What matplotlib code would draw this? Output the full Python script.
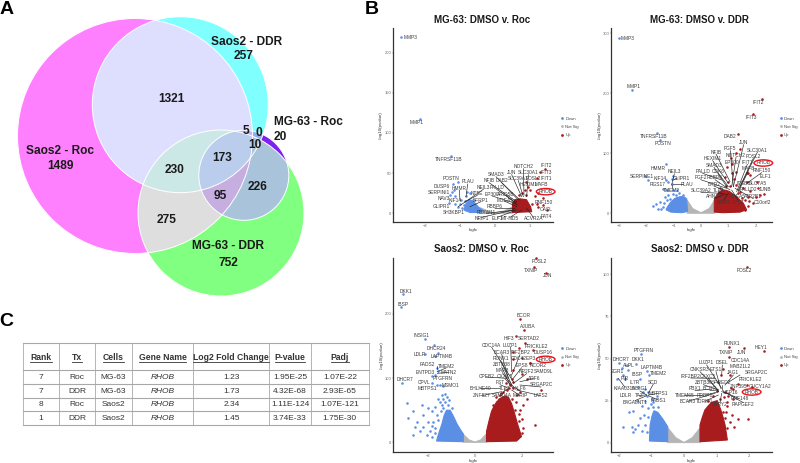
import matplotlib
matplotlib.use("Agg")
import matplotlib.pyplot as plt
import numpy as np
from matplotlib.lines import Line2D
from matplotlib.patches import Circle, Ellipse
from matplotlib.transforms import Affine2D

plt.rcParams["font.family"] = ["Liberation Sans", "DejaVu Sans"]

W, H = 800, 463

# --- panel C table ---
TABLE_HEAD = ["Rank", "Tx", "Cells", "Gene Name", "Log2 Fold Change", "P-value", "Padj"]
RANK = ["7", "7", "8", "1"]
TX = ["Roc", "DDR", "Roc", "DDR"]
CELLS = ["MG-63", "MG-63", "Saos2", "Saos2"]
GENE = ["RHOB", "RHOB", "RHOB", "RHOB"]
LOG2FC = [1.23, 1.73, 2.34, 1.45]
PVALUE = ["1.95E-25", "4.32E-68", "1.11E-124", "3.74E-33"]
PADJ = ["1.07E-22", "2.93E-65", "1.07E-121", "1.75E-30"]

# --- panel A overlap counts ---
VENN_NAMES = ["Saos2 - Roc", "Saos2 - DDR", "MG-63 - Roc", "MG-63 - DDR"]
VENN_COUNTS = [1489, 257, 20, 752, 1321, 230, 275, 173, 95, 226, 5, 0, 10]

# --- panel B volcano data: logfc and -log10(pvalue) ---
# dense clouds are outlines, sparse genes are single points
ROC_MG_GRAY_X = [-0.47, -0.42, -0.2, 0, 0.25, 0.5, 0.5, -0.47]
ROC_MG_GRAY_Y = [0, 7, 3, 0.5, 3, 8, 0, 0]
ROC_MG_DOWN_X = [-0.89, -0.83, -0.73, -0.62, -0.48, -0.33, -0.43, -0.71]
ROC_MG_DOWN_Y = [4, 12, 17, 15, 8, 3, 1, 1]
ROC_MG_UP_X = [0.5, 0.5, 0.57, 0.71, 0.9, 1.02, 1.05]
ROC_MG_UP_Y = [1, 12, 17, 18, 17, 8, 2]
ROC_MG_PTS_DOWN_X = [-2.69, -2.15, -1.25, -1.07, -1.21, -1.24, -1.17, -1.3, -1.33, -1.14, -0.79, -0.83, -1.0, -1.05,
                     -0.95, -0.86, -0.71, -0.62, -1.14, -0.98, -0.9]
ROC_MG_PTS_DOWN_Y = [219, 117, 71, 39, 36, 27, 29, 23, 13, 21, 27, 21, 12, 8, 6, 15, 25, 17, 12, 17, 10]
ROC_MG_PTS_UP_X = [1.43, 1.29, 1.19, 0.9, 1.0, 0.86, 0.76, 0.9, 1.14, 1.38, 1.19, 1.38, 1.48, 1.05, 1.24, 0.7, 0.95]
ROC_MG_PTS_UP_Y = [55, 51, 44, 39, 29, 29, 25, 23, 21, 19, 12, 10, 4, 12, 8, 23, 33]

DDR_MG_GRAY_X = [-0.5, -0.5, -0.3, 0, 0.3, 0.5, 0.5, -0.5]
DDR_MG_GRAY_Y = [0, 22, 8, 1, 8, 22, 0, 0]
DDR_MG_DOWN_X = [-1.28, -1.22, -1.13, -1.05, -0.95, -0.82, -0.71, -0.6, -0.52, -0.49, -0.7, -1.1]
DDR_MG_DOWN_Y = [6, 11, 17, 21, 25, 27, 28, 27, 24, 3, 1, 2]
DDR_MG_UP_X = [0.49, 0.49, 0.55, 0.63, 0.72, 0.82, 0.95, 1.06, 1.2, 1.3, 1.45, 1.55, 1.67, 1.43, 0.8]
DDR_MG_UP_Y = [2, 22, 28, 33, 37, 39, 38, 36, 31, 28, 21, 17, 6, 2, 1]
DDR_MG_PTS_DOWN_X = [-3.0, -2.54, -1.62, -1.5, -1.29, -1.04, -1.93, -1.26, -1.07, -1.38, -1.23, -1.01, -0.87, -1.74,
                     -1.65, -1.56, -1.5, -1.4, -1.32, -1.2, -1.01, -0.79, -2.05, -1.2, -1.07, -1.45, -1.35, -1.25,
                     -1.15, -0.92, -0.65]
DDR_MG_PTS_DOWN_Y = [293, 206, 134, 122, 82, 63, 56, 56, 49, 40, 39, 39, 39, 12, 16, 8, 19, 11, 28, 31, 32, 34, 62,
                     52, 58, 7, 18, 22, 24, 30, 31]
DDR_MG_PTS_UP_X = [2.22, 1.91, 1.34, 1.43, 1.27, 1.11, 0.94, 1.3, 1.67, 1.79, 2.04, 2.1, 1.67, 1.73, 2.16, 2.3, 2.01,
                   1.89, 1.55, 1.43, 1.3, 1.12, 1.0, 0.88, 1.2, 1.05, 1.6, 1.45, 1.8, 1.15, 1.72, 1.6, 1.5, 0.7, 0.9,
                   1.35, 1.75]
DDR_MG_PTS_UP_Y = [191, 166, 133, 107, 101, 92, 78, 69, 67, 64, 53, 42, 53, 28, 31, 32, 28, 17, 42, 36, 47, 67, 53,
                   61, 58, 45, 22, 16, 38, 82, 12, 6, 25, 42, 46, 34, 20]

ROC_SA_GRAY_X = [-0.5, -0.5, -0.25, 0, 0.25, 0.5, 0.5, -0.5]
ROC_SA_GRAY_Y = [0, 13, 4, 0.5, 4, 14, 0, 0]
ROC_SA_DOWN_X = [-1.62, -1.58, -1.5, -1.4, -1.3, -1.2, -1.05, -0.9, -0.75, -0.6, -0.49, -0.49]
ROC_SA_DOWN_Y = [2, 8, 17, 28, 42, 50, 50, 40, 28, 19, 13, 1]
ROC_SA_UP_X = [0.49, 0.49, 0.6, 0.7, 0.82, 0.92, 1.1, 1.27, 1.42, 1.55, 1.66, 1.79, 1.9, 1.97, 1.76]
ROC_SA_UP_Y = [1, 17, 34, 48, 57, 63, 69, 72, 70, 60, 47, 30, 17, 9, 2]
ROC_SA_PTS_DOWN_X = [-3.04, -3.14, -2.11, -1.73, -2.11, -1.55, -1.69, -1.62, -1.55, -1.69, -1.83, -3.07, -1.83, -1.62,
                     -1.48, -1.34, -2.86, -2.61, -2.25, -2.82, -2.46, -2.61, -2.54, -2.32, -2.18, -2.18, -1.97, -1.9,
                     -1.83, -1.97, -1.69, -1.55, -1.41, -1.27, -1.48, -1.76, -1.62, -1.69, -2.04, -1.83, -1.34, -1.34,
                     -1.2, -1.1, -1.45, -1.55, -1.38, -1.28, -1.12, -0.98, -1.7, -1.8]
ROC_SA_PTS_DOWN_Y = [230, 211, 161, 151, 138, 139, 135, 115, 111, 105, 103, 92, 93, 89, 89, 88, 61, 48, 58, 38, 32, 11,
                     24, 17, 24, 42, 32, 17, 48, 53, 55, 68, 74, 75, 63, 32, 42, 22, 11, 9, 68, 53, 70, 66, 48, 35,
                     58, 62, 58, 54, 14, 26]
ROC_SA_PTS_UP_X = [2.58, 2.49, 3.0, 1.9, 2.08, 1.73, 2.11, 1.87, 2.44, 1.62, 2.32, 1.97, 1.62, 1.62, 1.97, 2.18, 2.8,
                   2.54, 2.18, 2.04, 1.9, 1.83, 1.97, 1.97, 1.76, 1.62, 1.34, 1.48, 1.55, 1.2, 1.06, 1.9, 1.62, 1.75,
                   1.3, 1.42, 0.9, 1.7, 1.85, 2.02, 0.78, 1.0, 1.12, 1.55, 1.85]
ROC_SA_PTS_UP_Y = [286, 272, 264, 192, 175, 166, 155, 146, 144, 140, 124, 131, 130, 112, 107, 99, 81, 27, 68, 58, 50,
                   17, 14, 37, 74, 84, 81, 89, 99, 79, 74, 79, 94, 62, 92, 85, 70, 50, 33, 22, 58, 68, 76, 68, 44]

DDR_SA_GRAY_X = [-0.5, -0.5, -0.25, 0, 0.25, 0.5, 0.5, -0.5]
DDR_SA_GRAY_Y = [0, 9, 3, 0.2, 3, 9, 0, 0]
DDR_SA_DOWN_X = [-1.06, -1.04, -0.98, -0.92, -0.8, -0.63, -0.5, -0.5]
DDR_SA_DOWN_Y = [1, 10.5, 16, 19, 18, 13.5, 9.5, 0.6]
DDR_SA_UP_X = [0.49, 0.49, 0.56, 0.64, 0.75, 0.85, 1.02, 1.12, 1.2, 1.26, 1.33]
DDR_SA_UP_Y = [0.6, 10.5, 15, 19.4, 22, 24, 25, 20, 15, 10.5, 1.6]
DDR_SA_PTS_DOWN_X = [-1.33, -1.99, -1.48, -1.76, -1.91, -2.04, -1.73, -1.81, -1.86, -1.35, -1.12, -1.06, -1.4, -1.19,
                     -1.09, -1.14, -1.19, -1.45, -1.3, -1.55, -1.7, -1.86, -1.6, -1.55, -1.4, -1.24, -1.35, -1.19,
                     -1.09, -0.99, -0.94, -0.84, -1.14, -1.5, -1.02, -1.25, -1.1, -0.95, -0.8, -1.3]
DDR_SA_PTS_DOWN_Y = [52.5, 47.5, 47, 46, 44.5, 38, 43, 38, 40, 38, 42.5, 40, 33, 32, 30, 28, 25, 25, 22, 19, 18.5, 9.5,
                     9.5, 6.5, 10.5, 16.5, 14.5, 10.5, 20.4, 26, 24, 28, 6.5, 8, 23, 30, 15, 21, 21, 7]
DDR_SA_PTS_UP_X = [1.94, 1.85, 2.45, 1.39, 1.38, 1.2, 1.41, 1.66, 1.92, 2.09, 1.51, 1.36, 1.51, 1.31, 1.2, 1.26, 1.31,
                   1.41, 1.54, 1.66, 1.96, 1.46, 1.15, 1.33, 1.26, 1.05, 1.15, 1.0, 0.9, 1.1, 1.18, 1.3, 0.75, 1.22]
DDR_SA_PTS_UP_Y = [104.5, 56, 54.7, 57, 51, 44, 40, 35, 34, 33, 32, 28, 26, 24, 18.4, 14.5, 8.5, 12.5, 9.5, 14, 14,
                   16.4, 6.5, 22, 30, 36, 40, 31, 28, 26, 5, 18, 25, 27]

# gene symbols beside the points
ROC_MG_GENES = ["MMP3", "MMP1", "TNFRSF11B", "POSTN", "PLAU", "DUSP6", "HMMR", "NEIL3", "SERPINI1", "NT5E", "NAV3",
                "SFRP1", "GLIPR1", "KIF14", "SH3KBP1", "NOTCH2", "IFIT2", "IFIT3", "JUN", "SLC30A1", "SMAD3",
                "SLC39A1", "FOSL2", "IFIT1", "NFIB", "DAB2", "HEXIM1", "MAFB", "PALLD", "EP300", "ARID5B", "MGEA5",
                "RBBP6", "FBXW11", "NRIP1", "ELF1", "MT-ND5", "ACVR2A", "FAT4", "OASL", "RNF150"]
DDR_MG_GENES = ["MMP3", "MMP1", "TNFRSF11B", "POSTN", "HMMR", "NEIL3", "GLIPR1", "SERPINE1", "KIF14", "RGS17", "PLAU",
                "TMEM2", "IFIT2", "IFIT3", "DAB2", "JUN", "SLC30A1", "FGF5", "NFIB", "NOTCH2", "FOSL2", "HEXIM1",
                "IFIT1", "EP300", "SMAD3", "MAFB", "PALLD", "CDK6", "RNF150", "ELF1", "FGF2", "RBBP6", "BRD2",
                "ITGB8", "SLC7A5", "SLC39A2", "TLE4", "PALLD2", "JUNB", "AHNAK", "MGEA5", "ATP2B1", "NRIP1", "LYST",
                "C10orf2"]
ROC_SA_GENES = ["FOSL2", "TXNIP", "JUN", "DKK1", "IBSP", "BCOR", "AJUBA", "INSIG1", "HIF3", "SERTAD2", "DHCR24",
                "PRICKLE2", "CDC14A", "LUZP1", "IRF2BP2", "DUSP16", "BCAR3", "LDLR", "LAPTM4B", "RUNX1", "CDC42EP3",
                "ZBTB38", "EPS8", "RCOR2", "FADS2", "TMEM2", "MAFB", "NR2F2", "SAMD9L", "ENTPD3", "MATN2", "CPEB2",
                "CXXC5", "PTGFRN", "ARF6", "DHCR7", "CPVL", "SRGAP2C", "FST", "BHLHE40", "MSMO1", "MBTPS1", "TLE3",
                "KLF6", "ZNF827", "SAMD4A", "MPRIP", "LATS2"]
DDR_SA_GENES = ["FOSL2", "PTGFRN", "RUNX1", "JUN", "HEY1", "TXNIP", "DHCR7", "DKK1", "CDC14A", "ALPL", "LUZP1", "DSEL",
                "MAB21L2", "LAPTM4B", "CNKSR3", "ETS1", "IBSP", "TMEM2", "JAG1", "SRGAP2C", "EGR1", "IRF2BP2", "CXXC5",
                "PRICKLE2", "PIR", "IL7R", "SCD", "ZBTB38", "SPRED2", "GUCY1A2", "KIAA0319", "INSIG1", "PBX1", "BCOR",
                "ZNF395", "LDLR", "TAZ", "MBTPS1", "USP16", "TMEM65", "RRBP1", "RNF148", "B4GALNT1", "FADS1", "BCAR3",
                "TDRIP1", "SPRY2", "RAPGEF2"]

# --- panel B layout: label spots are in thirds of a pixel from each panel corner ---
PANEL_ORIGIN = [(380, 0), (590, 0), (380, 235), (590, 235)]

ROC_MG_LABEL_XY = [(92, 112), (110, 369), (205, 478), (212, 535), (263, 545), (185, 558), (238, 565), (310, 562),
                   (176, 577), (292, 581), (192, 596), (303, 600), (183, 620), (225, 603), (220, 638), (430, 500),
                   (500, 496), (500, 518), (395, 518), (445, 518), (348, 524), (415, 536), (460, 536), (498, 536),
                   (327, 542), (365, 542), (445, 555), (485, 555), (350, 562), (337, 582), (378, 582), (375, 600),
                   (345, 620), (320, 637), (305, 657), (352, 657), (390, 657), (460, 657), (500, 648), (498, 628),
                   (490, 608)]
DDR_MG_LABEL_XY = [(112, 116), (132, 260), (192, 408), (218, 431), (205, 505), (253, 515), (275, 534), (155, 531),
                   (212, 534), (202, 552), (292, 552), (245, 570), (505, 307), (483, 352), (420, 410), (461, 428),
                   (502, 451), (421, 446), (378, 456), (438, 466), (490, 469), (368, 476), (472, 487), (425, 487),
                   (372, 496), (475, 507), (338, 514), (385, 514), (515, 512), (525, 530), (332, 533), (375, 533),
                   (372, 552), (460, 550), (505, 551), (333, 571), (385, 571), (475, 568), (525, 568), (372, 590),
                   (440, 590), (490, 590), (400, 608), (445, 608), (517, 608)]
ROC_SA_LABEL_XY = [(478, 80), (452, 106), (503, 122), (78, 170), (70, 207), (430, 242), (443, 275), (126, 302),
                   (386, 312), (447, 312), (170, 341), (470, 335), (335, 331), (392, 331), (420, 353), (490, 353),
                   (365, 351), (120, 360), (185, 366), (362, 370), (430, 372), (365, 390), (425, 392), (475, 392),
                   (142, 388), (198, 393), (367, 407), (440, 410), (490, 410), (137, 412), (207, 412), (320, 426),
                   (375, 425), (188, 431), (462, 431), (75, 434), (132, 443), (483, 450), (360, 443), (300, 461),
                   (213, 452), (142, 461), (375, 461), (420, 461), (305, 482), (365, 482), (420, 482), (482, 482)]
DDR_SA_LABEL_XY = [(463, 106), (160, 348), (427, 325), (455, 352), (513, 337), (408, 354), (92, 373), (145, 373),
                   (450, 375), (118, 392), (350, 384), (397, 384), (452, 395), (185, 398), (330, 404), (378, 404),
                   (140, 418), (205, 416), (430, 414), (498, 414), (82, 410), (302, 423), (355, 423), (482, 433),
                   (103, 430), (135, 443), (190, 441), (340, 443), (395, 443), (510, 453), (105, 462), (150, 462),
                   (315, 461), (360, 461), (445, 453), (107, 481), (148, 481), (205, 475), (420, 471), (283, 481),
                   (345, 481), (448, 491), (135, 503), (205, 495), (293, 499), (345, 499), (390, 509), (460, 509)]

ROC_MG_LEADERS = [(348, 530, 415, 600), (327, 548, 410, 605), (365, 548, 420, 600), (395, 524, 425, 590),
                  (430, 506, 432, 585), (445, 524, 440, 590), (415, 542, 430, 590), (350, 568, 410, 610),
                  (378, 586, 412, 615), (337, 588, 405, 610), (375, 604, 410, 620), (345, 626, 405, 625),
                  (320, 640, 405, 630), (305, 652, 400, 630), (352, 652, 410, 630), (390, 652, 425, 630),
                  (460, 652, 440, 625), (310, 568, 235, 620), (292, 586, 255, 605), (303, 605, 270, 620),
                  (263, 552, 258, 590), (238, 571, 240, 600)]
DDR_MG_LEADERS = [(378, 462, 420, 545), (368, 482, 415, 550), (372, 502, 410, 560), (338, 520, 395, 540),
                  (385, 520, 415, 560), (332, 539, 410, 565), (375, 539, 420, 570), (372, 558, 400, 570),
                  (333, 577, 395, 580), (385, 577, 410, 585), (372, 596, 400, 585), (400, 602, 415, 580),
                  (421, 452, 430, 560), (438, 472, 425, 560), (461, 434, 430, 560), (472, 493, 440, 575),
                  (502, 457, 450, 560), (490, 475, 445, 570), (475, 513, 445, 575), (515, 518, 470, 550),
                  (445, 602, 425, 570), (490, 596, 435, 565), (280, 552, 250, 552), (253, 521, 245, 555),
                  (262, 534, 250, 540), (245, 565, 245, 555)]
ROC_SA_LEADERS = [(335, 337, 400, 440), (392, 337, 395, 410), (420, 359, 395, 420), (365, 357, 385, 430),
                  (362, 376, 395, 450), (365, 396, 390, 450), (367, 413, 400, 455), (320, 426, 380, 430),
                  (375, 431, 400, 460), (360, 449, 385, 460), (300, 461, 360, 460), (375, 467, 385, 462),
                  (420, 467, 400, 455), (305, 482, 365, 470), (365, 482, 375, 465), (420, 482, 395, 465),
                  (462, 431, 420, 440), (483, 456, 420, 450), (482, 482, 410, 465), (440, 416, 400, 445),
                  (425, 398, 400, 430), (172, 392, 172, 402), (198, 399, 172, 410), (207, 412, 172, 415)]
DDR_SA_LEADERS = [(350, 390, 395, 460), (397, 390, 395, 420), (330, 410, 385, 465), (378, 410, 392, 460),
                  (302, 429, 375, 430), (355, 429, 385, 470), (340, 449, 385, 465), (395, 449, 395, 465),
                  (315, 467, 365, 462), (360, 467, 385, 465), (283, 481, 340, 481), (345, 481, 385, 470),
                  (293, 499, 375, 475), (345, 499, 385, 480), (390, 503, 395, 475), (420, 477, 395, 470),
                  (448, 491, 400, 470), (460, 503, 410, 475), (450, 420, 410, 445), (430, 420, 405, 450),
                  (105, 457, 85, 430), (105, 436, 105, 425), (150, 468, 170, 480), (148, 481, 170, 480),
                  (205, 475, 175, 480), (205, 495, 175, 482), (135, 497, 170, 482), (190, 447, 175, 475)]

RHOB_LABEL_XY = [(497, 575), (520, 489), (497, 373), (485, 471)]

BLUE = "#5B8FE6"
RED = "#A81C1E"
GRAY = "#B5B5B5"
TEXT = "#3A3A3A"

fig = plt.figure(figsize=(W / 100, H / 100), dpi=100)
bg = fig.add_axes([0, 0, 1, 1])

# venn: each pixel is coloured by which circles contain it
circles = [(135, 136, 117.5), (180.3, 104.7, 88), (243.8, 175.3, 45), (221, 213, 83)]
region_colors = {
    0: "#FFFFFF", 1: "#FF80FF", 2: "#80FFFF", 4: "#7F22F2", 8: "#80FF80",
    3: "#DFDFFF", 9: "#DEDEDE", 10: "#BDE3E3", 5: "#C090F0", 6: "#8FB0F0", 12: "#A9C4DC",
    11: "#CCE9E6", 7: "#B5B5F5", 13: "#C8AEE0", 14: "#A9C4DC", 15: "#BBCDEE",
}
gx, gy = np.meshgrid(np.arange(0, 320, 0.25) + 0.125, np.arange(0, 310, 0.25) + 0.125)
code = np.zeros(gx.shape, dtype=int)
for i, (cx, cy, r) in enumerate(circles):
    code += ((gx - cx) ** 2 + (gy - cy) ** 2 <= r ** 2).astype(int) << i
lut = np.array([matplotlib.colors.to_rgb(region_colors[k]) for k in range(16)])
bg.imshow(lut[code], extent=(0, 320, 310, 0), aspect="auto", interpolation="antialiased", zorder=1)
for cx, cy, r in circles:
    bg.add_patch(Circle((cx, cy), r, fill=False, ec="white", lw=0.7, zorder=2))
bg.set_xlim(0, W)
bg.set_ylim(H, 0)
bg.axis("off")

venn_name_xy = [(60, 150.7), (246.7, 41.7), (308, 122), (228.3, 246)]
venn_count_xy = [(60, 165.7), (244, 55.7), (280, 137), (228.3, 262.7), (171.7, 99), (174.3, 170), (166.3, 220.3),
                 (222.3, 157.7), (220.7, 195.7), (257.7, 186.7), (245.7, 131.3), (258.7, 133.3), (255, 145)]
for name, (x, y) in zip(VENN_NAMES, venn_name_xy):
    bg.text(x, y, name, ha="center", va="center", fontsize=8.6, fontweight="bold", color="#1A1A1A", zorder=3)
for n, (x, y) in zip(VENN_COUNTS, venn_count_xy):
    bg.text(x, y, str(n), ha="center", va="center", fontsize=8.6, fontweight="bold", color="#1A1A1A", zorder=3)

# panel letters
for letter, x, y in [("A", 7, 9), ("B", 372, 9), ("C", 6, 321)]:
    bg.text(x, y, letter, ha="center", va="center", fontsize=14, fontweight="bold", color="black")

# table
col_edges = [22.7, 59.3, 95.3, 131.7, 193.3, 269.3, 310.7, 369]
row_edges = [342.7, 370.3, 384, 397.7, 411.3, 425.3]
for x in col_edges:
    bg.plot([x, x], [row_edges[0], row_edges[-1]], color="#B4B4B4", lw=0.7, zorder=2)
for y in row_edges:
    bg.plot([col_edges[0], col_edges[-1]], [y, y], color="#A8A8A8", lw=0.8, zorder=2)
centers = [(a + b) / 2 for a, b in zip(col_edges, col_edges[1:])]
head_texts = []
for x, name in zip(centers, TABLE_HEAD):
    head_texts.append(bg.text(x, 357, name, ha="center", va="center", fontsize=6.2, fontweight="bold", color="#333333"))
columns = [RANK, TX, CELLS, GENE, [f"{v:.2f}" for v in LOG2FC], PVALUE, PADJ]
for j, col in enumerate(columns):
    for i, val in enumerate(col):
        y = (row_edges[i + 1] + row_edges[i + 2]) / 2 + 0.2
        bg.text(centers[j], y, val, ha="center", va="center", fontsize=6, color="#333333",
                style="italic" if j == 3 else "normal")
renderer = fig.canvas.get_renderer()
for t in head_texts:
    box = t.get_window_extent(renderer)
    bg.plot([box.x0, box.x1], [362, 362], color="#333333", lw=0.6, zorder=3)

# volcano panels
panels = [
    dict(rect=(393, 553, 28, 222), xlim=(-2.92, 1.66), ylim=(-10.8, 230.5), xticks=[-2, -1, 0, 1],
         yticks=[0, 50, 100, 150, 200], title="MG-63: DMSO v. Roc",
         gray=(ROC_MG_GRAY_X, ROC_MG_GRAY_Y), down=(ROC_MG_DOWN_X, ROC_MG_DOWN_Y), up=(ROC_MG_UP_X, ROC_MG_UP_Y),
         pts_down=(ROC_MG_PTS_DOWN_X, ROC_MG_PTS_DOWN_Y), pts_up=(ROC_MG_PTS_UP_X, ROC_MG_PTS_UP_Y),
         genes=ROC_MG_GENES, label_xy=ROC_MG_LABEL_XY, leaders=ROC_MG_LEADERS),
    dict(rect=(611.3, 771.7, 28, 222), xlim=(-3.28, 2.59), ylim=(-14.5, 309), xticks=[-3, -2, -1, 0, 1, 2],
         yticks=[0, 100, 200, 300], title="MG-63: DMSO v. DDR",
         gray=(DDR_MG_GRAY_X, DDR_MG_GRAY_Y), down=(DDR_MG_DOWN_X, DDR_MG_DOWN_Y), up=(DDR_MG_UP_X, DDR_MG_UP_Y),
         pts_down=(DDR_MG_PTS_DOWN_X, DDR_MG_PTS_DOWN_Y), pts_up=(DDR_MG_PTS_UP_X, DDR_MG_PTS_UP_Y),
         genes=DDR_MG_GENES, label_xy=DDR_MG_LABEL_XY, leaders=DDR_MG_LEADERS),
    dict(rect=(393.3, 553, 258, 452.3), xlim=(-3.45, 3.3), ylim=(-15.5, 286.6), xticks=[-2, 0, 2],
         yticks=[0, 100, 200], title="Saos2: DMSO v. Roc",
         gray=(ROC_SA_GRAY_X, ROC_SA_GRAY_Y), down=(ROC_SA_DOWN_X, ROC_SA_DOWN_Y), up=(ROC_SA_UP_X, ROC_SA_UP_Y),
         pts_down=(ROC_SA_PTS_DOWN_X, ROC_SA_PTS_DOWN_Y), pts_up=(ROC_SA_PTS_UP_X, ROC_SA_PTS_UP_Y),
         genes=ROC_SA_GENES, label_xy=ROC_SA_LABEL_XY, leaders=ROC_SA_LEADERS),
    dict(rect=(611.3, 771.7, 258, 452.3), xlim=(-2.23, 2.69), ylim=(-5.7, 109.7), xticks=[-2, -1, 0, 1, 2],
         yticks=[0, 25, 50, 75, 100], title="Saos2: DMSO v. DDR",
         gray=(DDR_SA_GRAY_X, DDR_SA_GRAY_Y), down=(DDR_SA_DOWN_X, DDR_SA_DOWN_Y), up=(DDR_SA_UP_X, DDR_SA_UP_Y),
         pts_down=(DDR_SA_PTS_DOWN_X, DDR_SA_PTS_DOWN_Y), pts_up=(DDR_SA_PTS_UP_X, DDR_SA_PTS_UP_Y),
         genes=DDR_SA_GENES, label_xy=DDR_SA_LABEL_XY, leaders=DDR_SA_LEADERS),
]
# panel order follows the table rows for the RHOB point
rhob_y = [-np.log10(float(p)) for p in PVALUE]
title_x = [481.7, 699.7, 481.7, 699.7]

for k, p in enumerate(panels):
    left, right, top, bottom = p["rect"]
    ax = fig.add_axes([left / W, 1 - bottom / H, (right - left) / W, (bottom - top) / H])
    ax.patch.set_alpha(0)
    ax.fill(*p["gray"], color=GRAY, lw=0.6, zorder=1)
    ax.fill(*p["down"], color=BLUE, lw=0.8, zorder=2)
    ax.fill(*p["up"], color=RED, lw=0.8, zorder=2)
    ax.scatter(*p["pts_down"], s=3.4, color=BLUE, lw=0, zorder=3, clip_on=False)
    ax.scatter(*p["pts_up"], s=3.4, color=RED, lw=0, zorder=3, clip_on=False)
    ax.scatter([LOG2FC[k]], [rhob_y[k]], s=3.4, color=RED, lw=0, zorder=3)
    ax.set_xlim(*p["xlim"])
    ax.set_ylim(*p["ylim"])
    ax.set_xticks(p["xticks"])
    ax.set_yticks(p["yticks"])
    ax.set_xticklabels([str(v).replace("-", "\u2212") for v in p["xticks"]])
    ax.tick_params(labelsize=3.0, length=0.8, width=0.3, pad=0.6, colors="#666666")
    for side in ("top", "right"):
        ax.spines[side].set_visible(False)
    for side in ("left", "bottom"):
        ax.spines[side].set_linewidth(0.9)
        ax.spines[side].set_color("#333333")
    ax.set_xlabel("logfc", fontsize=3.2, labelpad=0.4, color="#333333")
    ax.set_ylabel("-log10(pvalue)", fontsize=3.2, labelpad=0.8, color="#333333")

    ox, oy = PANEL_ORIGIN[k]
    bg.text(title_x[k], top - (8 if k < 2 else 9), p["title"], ha="center", va="center", fontsize=7.0,
            fontweight="bold", color="#1A1A1A")

    # labels are placed in the panel's own third-of-a-pixel grid
    place = Affine2D().scale(1 / 3, -1 / 3).translate(ox, H - oy)
    for x0, y0, x1, y1 in p["leaders"]:
        ax.plot([x0, x1], [y0, y1], color="#222222", lw=0.45, transform=place, zorder=4, clip_on=False)
    for gene, (x, y) in zip(p["genes"], p["label_xy"]):
        ax.text(x, y, gene, transform=place, ha="center", va="center", fontsize=3.5, color=TEXT, zorder=5,
                clip_on=False)
    rx, ry = RHOB_LABEL_XY[k]
    ax.text(rx, ry, GENE[k], transform=place, ha="center", va="center", fontsize=3.5, color=TEXT, zorder=5)
    ax.add_patch(Ellipse((rx, ry), 56, 19, fill=False, ec="#E8141C", lw=1.0, transform=place, zorder=6,
                         clip_on=False))

    handles = [Line2D([], [], marker="o", ls="none", ms=2, color=c, mew=0) for c in (BLUE, GRAY, RED)]
    ax.legend(handles, ["Down", "Not Sig", "Up"], loc="center left", bbox_to_anchor=(1.03, 0.49), frameon=False,
              fontsize=3.0, labelspacing=1.05, handlelength=1.2, handletextpad=0.1, labelcolor="#444444", borderpad=0)

fig.savefig("out.png", dpi=100)
